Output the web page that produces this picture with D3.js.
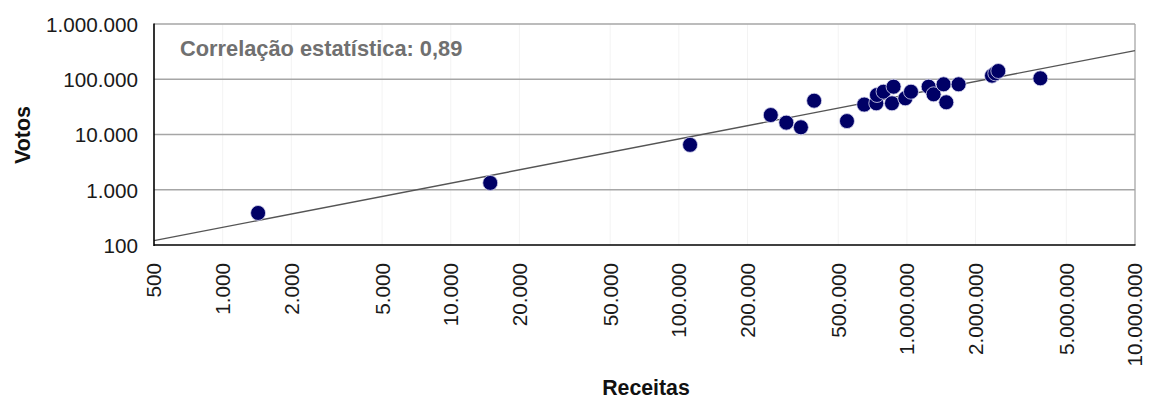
<!DOCTYPE html>
<html>
<head>
<meta charset="utf-8">
<script src="https://cdn.jsdelivr.net/npm/d3@7"></script>
<style>
  html, body { margin: 0; padding: 0; background: #fff; }
  svg { display: block; }
  text { font-family: "Liberation Sans", Arial, sans-serif; }
</style>
</head>
<body>
<svg id="chart" width="1151" height="401"></svg>
<script>
// ---- data ----
const receitas = [1430, 14900, 112000, 253000, 296000, 343000, 392000, 546000, 650000, 734000,
  739000, 790000, 874000, 860000, 984000, 1042000, 1245000, 1309000, 1448000, 1488000,
  1685000, 2361000, 2441000, 2516000, 3846000];
const votos = [380, 1330, 6500, 22500, 16400, 13500, 40900, 17500, 34800, 36700,
  51900, 59500, 73300, 36700, 45200, 59500, 73300, 53400, 81000, 38300,
  81000, 116000, 128000, 141000, 104000];
const trendX = [500, 10000000];
const trendY = [120, 330000];
const xTicks = [500, 1000, 2000, 5000, 10000, 20000, 50000, 100000, 200000, 500000,
  1000000, 2000000, 5000000, 10000000];
const yTicks = [100, 1000, 10000, 100000, 1000000];
const xTitle = "Receitas";
const yTitle = "Votos";
const note = "Correlação estatística: 0,89";

// ---- layout ----
const svg = d3.select("#chart");
const m = { left: 154, right: 1135, top: 24, bottom: 245 };
const fmt = v => d3.format(",")(v).replace(/,/g, ".");

const x = d3.scaleLog().domain([500, 10000000]).range([m.left, m.right]);
const y = d3.scaleLog().domain([100, 1000000]).range([m.bottom, m.top]);

// faint vertical grid
svg.append("g").selectAll("line").data(xTicks.slice(1, -1)).join("line")
  .attr("x1", d => x(d)).attr("x2", d => x(d))
  .attr("y1", m.top).attr("y2", m.bottom)
  .attr("stroke", "#f3f3f3").attr("stroke-width", 1);

// horizontal grid (incl. top border)
svg.append("g").selectAll("line").data(yTicks.slice(1)).join("line")
  .attr("x1", m.left).attr("x2", m.right)
  .attr("y1", d => y(d)).attr("y2", d => y(d))
  .attr("stroke", "#a6a6a6").attr("stroke-width", 1.3);

// right border
svg.append("line").attr("x1", m.right).attr("x2", m.right)
  .attr("y1", m.top).attr("y2", m.bottom)
  .attr("stroke", "#a6a6a6").attr("stroke-width", 1.3);

// trend line
svg.append("line")
  .attr("x1", x(trendX[0])).attr("y1", y(trendY[0]))
  .attr("x2", x(trendX[1])).attr("y2", y(trendY[1]))
  .attr("stroke", "#555").attr("stroke-width", 1.4);

// points
svg.append("g").selectAll("circle").data(receitas.map((r, i) => [r, votos[i]])).join("circle")
  .attr("cx", d => x(d[0])).attr("cy", d => y(d[1])).attr("r", 7.5)
  .attr("fill", "#000066").attr("stroke", "#d8d8f0").attr("stroke-width", 0.8);

// axes lines (left & bottom black)
svg.append("line").attr("x1", m.left).attr("x2", m.left)
  .attr("y1", m.top - 0.5).attr("y2", m.bottom + 1)
  .attr("stroke", "#000").attr("stroke-width", 1.6);
svg.append("line").attr("x1", m.left).attr("x2", m.right + 0.5)
  .attr("y1", m.bottom).attr("y2", m.bottom)
  .attr("stroke", "#000").attr("stroke-width", 1.6);

// y tick labels
svg.append("g").selectAll("text").data(yTicks).join("text")
  .attr("x", 138).attr("y", d => y(d)).attr("dy", "0.38em")
  .attr("text-anchor", "end").attr("font-size", 20.7).attr("fill", "#1a1a1a")
  .text(fmt);

// x tick labels (rotated)
svg.append("g").selectAll("text").data(xTicks).join("text")
  .attr("transform", d => `translate(${x(d)},263) rotate(-90)`)
  .attr("dy", "0.36em")
  .attr("text-anchor", "end").attr("font-size", 20.7).attr("fill", "#1a1a1a")
  .text(fmt);

// titles
svg.append("text").attr("transform", "translate(30,135) rotate(-90)")
  .attr("text-anchor", "middle").attr("font-size", 21.5).attr("font-weight", "bold")
  .attr("fill", "#111").text(yTitle);
svg.append("text").attr("x", 646).attr("y", 395)
  .attr("text-anchor", "middle").attr("font-size", 21.3).attr("font-weight", "bold")
  .attr("fill", "#111").text(xTitle);

// annotation
svg.append("text").attr("x", 180).attr("y", 56)
  .attr("font-size", 21.8).attr("font-weight", "bold").attr("fill", "#707070")
  .text(note);
</script>
</body>
</html>
